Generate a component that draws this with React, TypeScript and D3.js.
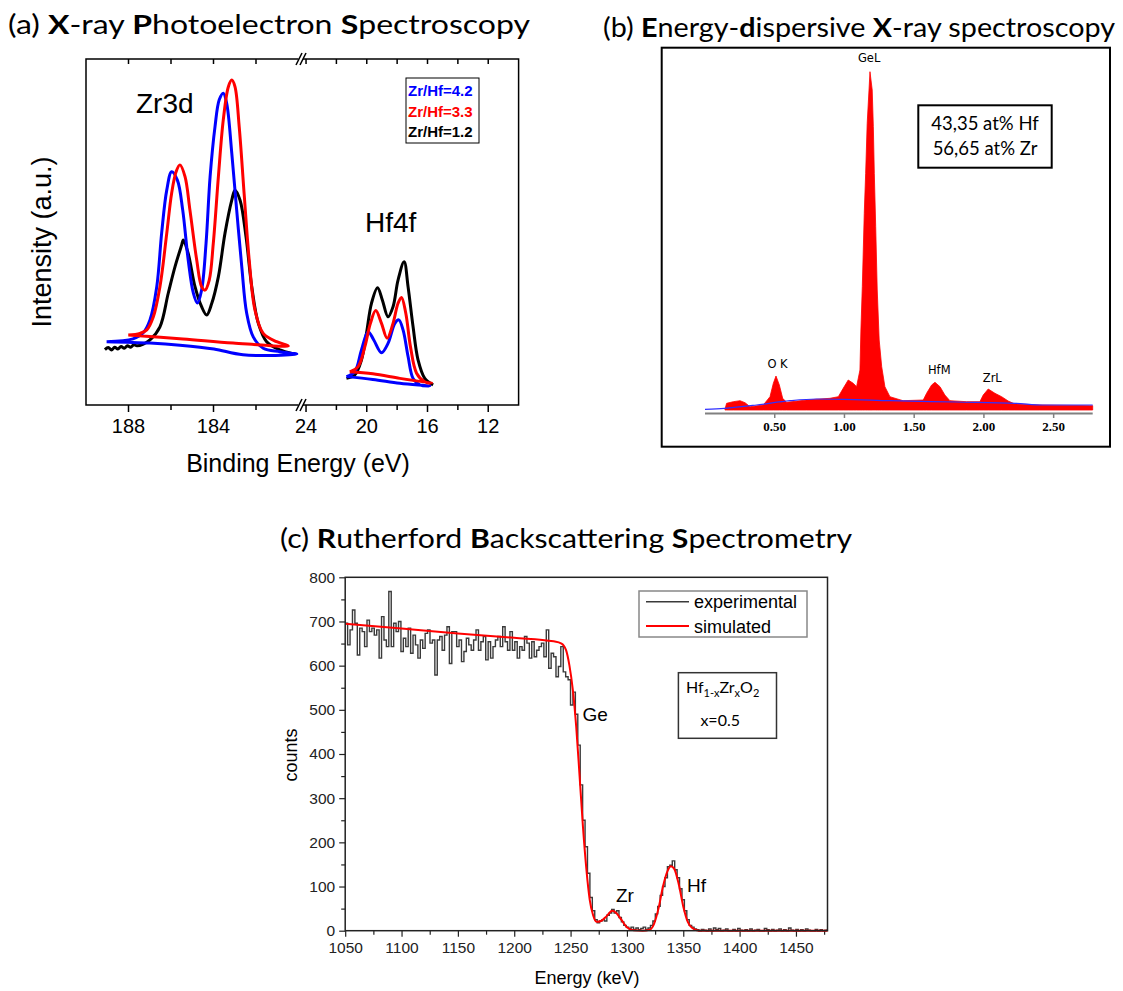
import React, { useEffect, useRef } from "react";
import * as d3 from "d3";

// ---------- (a) XPS: Zr3d region (binding energy eV / intensity a.u.) ----------
const zrBlueBE = [189.03, 187.79, 187.32, 186.99, 186.67, 186.44, 186.2, 185.97, 185.7, 185.45, 185.19, 184.95, 184.76, 184.56, 184.35, 184.16, 183.93, 183.73, 183.54, 183.38, 183.14, 182.91, 182.67, 182.44, 182.13, 181.66, 180.87, 180.08, 182.61, 183.98, 185.58, 186.99, 189.03];
const zrBlueInt = [18.3, 19.1, 20.8, 24.6, 34.2, 49.7, 62.1, 67.4, 65.0, 56.4, 41.9, 32.4, 29.5, 33.2, 46.8, 66.0, 80.4, 88.2, 90.1, 87.2, 72.8, 56.4, 40.0, 26.6, 19.7, 16.4, 15.4, 14.7, 14.5, 16.2, 17.3, 17.9, 18.3];
const zrRedBE = [188.01, 187.46, 187.14, 186.83, 186.52, 186.2, 185.97, 185.76, 185.58, 185.34, 185.11, 184.79, 184.56, 184.4, 184.2, 184.01, 183.77, 183.54, 183.3, 183.14, 182.99, 182.79, 182.56, 182.32, 182.05, 181.66, 181.03, 180.48, 183.08, 185.44, 188.01];
const zrRedInt = [20.2, 20.7, 21.7, 25.5, 34.2, 49.6, 61.2, 67.4, 69.4, 66.0, 56.4, 41.9, 34.2, 33.2, 36.1, 46.7, 66.0, 82.4, 92.0, 93.9, 92.0, 80.4, 61.2, 41.9, 27.5, 20.7, 18.3, 17.1, 17.9, 19.1, 20.2];
const zrBlackBE = [189.11, 188.95, 188.8, 188.65, 188.5, 188.35, 188.2, 188.05, 187.9, 187.75, 187.6, 187.3, 186.99, 186.52, 186.13, 185.81, 185.5, 185.42, 185.19, 184.87, 184.56, 184.32, 184.08, 183.77, 183.46, 183.14, 182.99, 182.75, 182.47, 182.2, 181.89, 181.5, 180.87, 180.32];
const zrBlackInt = [16.0, 16.6, 15.9, 16.7, 16.2, 16.9, 16.4, 17.1, 16.7, 17.4, 17.1, 17.6, 18.8, 22.6, 32.3, 40.0, 46.2, 47.7, 43.8, 34.2, 28.4, 26.0, 29.4, 37.1, 49.6, 59.2, 62.1, 59.2, 48.6, 34.2, 23.6, 18.3, 15.9, 14.9];

// ---------- (a) XPS: Hf4f region ----------
const hfBlackBE = [21.34, 20.79, 20.35, 20.02, 19.69, 19.29, 18.97, 18.6, 18.27, 17.94, 17.54, 17.28, 16.95, 16.62, 16.18, 15.63];
const hfBlackInt = [7.7, 8.7, 13.0, 20.7, 29.4, 33.9, 30.3, 25.5, 28.4, 36.1, 41.4, 34.2, 22.6, 13.0, 7.7, 5.8];
const hfRedBE = [21.12, 20.57, 20.13, 19.76, 19.41, 19.03, 18.66, 18.27, 17.94, 17.71, 17.43, 17.12, 16.72, 16.18, 15.73, 17.82, 19.6, 21.12];
const hfRedInt = [9.6, 11.1, 16.8, 23.6, 27.3, 23.6, 19.3, 23.6, 29.4, 31.1, 26.5, 16.8, 9.2, 6.7, 6.3, 7.7, 9.0, 9.6];
const hfBlueBE = [21.34, 20.79, 20.35, 19.91, 19.54, 19.03, 18.6, 18.15, 17.89, 17.61, 17.28, 16.95, 16.51, 15.85, 17.82, 19.6, 21.34];
const hfBlueInt = [8.2, 9.6, 15.9, 21.2, 18.8, 15.1, 17.8, 23.6, 24.6, 21.7, 14.0, 7.7, 5.8, 5.5, 6.3, 7.4, 8.2];

const xpsLegend = ["Zr/Hf=4.2", "Zr/Hf=3.3", "Zr/Hf=1.2"];
const xpsColors = ["#0000ff", "#ff0000", "#000000"];

// ---------- (b) EDS (keV / counts a.u.) ----------
const edsKeV = [0.143, 0.155, 0.203, 0.251, 0.287, 0.323, 0.418, 0.466, 0.49, 0.509, 0.533, 0.557, 0.585, 0.729, 0.896, 0.956, 0.991, 1.027, 1.063, 1.087, 1.111, 1.118, 1.128, 1.142, 1.152, 1.163, 1.176, 1.183, 1.199, 1.207, 1.214, 1.224, 1.235, 1.249, 1.267, 1.29, 1.326, 1.42, 1.565, 1.589, 1.625, 1.649, 1.685, 1.72, 1.756, 1.876, 1.971, 1.995, 2.031, 2.079, 2.127, 2.174, 2.222, 2.401, 2.76, 2.78];
const edsCounts = [0.7, 6.7, 8.3, 9.3, 7.3, 3.3, 5, 13.3, 26.7, 34, 25, 11.7, 7.7, 10, 11.7, 13.3, 21.7, 30, 26.7, 23.3, 40, 80, 123.3, 196.7, 236.7, 286.7, 320, 338.3, 320, 283.3, 236.7, 183.3, 120, 70, 43.3, 23.3, 13.3, 9.3, 10, 16.7, 25, 27.7, 23.3, 15, 9.3, 8.3, 8.3, 15, 21, 16.7, 13.3, 9, 6, 5, 4.3, 4.3];
const edsBgKeV = [0, 0.14, 0.37, 0.61, 0.8, 0.99, 1.33, 1.8, 2.23, 2.42, 2.78];
const edsBgCounts = [0.7, 1.7, 5, 9.3, 11, 10.7, 9.3, 8, 6.7, 5, 5];
const edsTicks = [0.5, 1.0, 1.5, 2.0, 2.5];
const edsPeakNames = ["O K", "GeL", "HfM", "ZrL"];
const edsPeakKeV = [0.52, 1.22, 1.68, 2.06];
const edsPeakCounts = [42, 348, 36, 28];
const edsComposition = ["43,35 at% Hf", "56,65 at% Zr"];

// ---------- (c) RBS (keV / counts) ----------
const rbsStart = 1050;
const rbsChannel = 2.15;
const rbsExpCounts = [
  696, 647, 681, 726, 696, 624, 685, 677, 643, 703, 677, 685, 669, 681, 617, 711, 658, 643, 768, 643,
  696, 677, 700, 632, 662, 643, 685, 628, 669, 647, 617, 658, 639, 673, 681, 651, 658, 579, 658, 666,
  635, 669, 688, 605, 677, 677, 643, 658, 609, 632, 662, 647, 635, 658, 681, 635, 654, 666, 613, 654,
  617, 643, 658, 666, 643, 688, 654, 635, 677, 635, 654, 617, 643, 635, 666, 651, 617, 654, 620, 635,
  643, 651, 620, 681, 594, 628, 620, 575, 598, 643, 586, 575, 568, 511,
  540, 490, 420, 330, 250, 190, 130, 75, 45, 25, 18, 22, 25, 22, 35, 40, 48, 40, 45, 30,
  20, 12, 8, 5, 8, 3, 6, 2, 5, 8, 3, 6, 12, 22, 38, 55, 80, 100, 120, 145,
  148, 158, 138, 120, 95, 70, 45, 25, 12, 8, 4, 2,
  0, 3, 1, 0, 4, 0, 6, 2, 5, 0, 1, 4, 0, 0, 3, 0, 5, 1, 0, 2,
  0, 4, 0, 1, 3, 0, 0, 5, 2, 0, 3, 0, 1, 4, 0, 2, 0, 6, 1, 0,
  3, 0, 2, 0, 4, 1, 0, 0, 3, 0, 2, 0, 1, 4,
];
const rbsSimE = [1050, 1100, 1150, 1200, 1235, 1242, 1246, 1249, 1252, 1255, 1258, 1261, 1264, 1267, 1270, 1273, 1277, 1282, 1287, 1291, 1295, 1300, 1306, 1314, 1320, 1324, 1328, 1332, 1336, 1339, 1342, 1346, 1350, 1354, 1358, 1364, 1478];
const rbsSimCounts = [695, 684, 673, 663, 655, 650, 635, 600, 545, 462, 350, 235, 140, 70, 35, 20, 22, 33, 45, 39, 25, 8, 1, 0, 2, 15, 50, 100, 135, 146, 140, 105, 55, 20, 6, 0, 0];
const rbsXTicks = [1050, 1100, 1150, 1200, 1250, 1300, 1350, 1400, 1450];
const rbsYTicks = [0, 100, 200, 300, 400, 500, 600, 700, 800];

const SANS = "'Liberation Sans', Arial, sans-serif";
const TITLE = "Lato, 'Open Sans', sans-serif";

type Sel = d3.Selection<SVGGElement, unknown, null, undefined>;

const drawTitle = (g: Sel, x: number, y: number, len: number, parts: [string, boolean][]) => {
  const t = g.append("text").attr("x", x).attr("y", y).attr("font-family", TITLE).attr("font-size", 27)
    .attr("textLength", len).attr("lengthAdjust", "spacingAndGlyphs").style("white-space", "pre");
  parts.forEach(([s, b]) => t.append("tspan").text(s).attr("font-weight", b ? 700 : 400));
};

const drawXps = (g: Sel) => {
  const top = 59, bottom = 405, left = 86, right = 518.6;
  const xL = d3.scaleLinear().domain([190, 180]).range([left, 298.5]);
  const xR = d3.scaleLinear().domain([24.2, 10]).range([303, right]);
  const y = d3.scaleLinear().domain([0, 100]).range([bottom, top]);

  drawTitle(g, 8, 34, 522, [["(a) ", false], ["X", true], ["-ray ", false], ["P", true], ["hotoelectron ", false], ["S", true], ["pectroscopy", false]]);

  // frame
  g.append("rect").attr("x", left).attr("y", top).attr("width", right - left).attr("height", bottom - top)
    .attr("fill", "none").attr("stroke", "#000").attr("stroke-width", 1.5);

  const leftTicks = [188, 186, 184, 182];
  const rightTicks = [24, 22, 20, 18, 16, 14, 12];
  const ticks = [...leftTicks.map((v) => ({ v, x: xL(v) })), ...rightTicks.map((v) => ({ v, x: xR(v) }))];
  ticks.forEach(({ v, x }) => {
    const major = v % 4 === 0;
    g.append("line").attr("x1", x).attr("x2", x).attr("y1", bottom).attr("y2", bottom + (major ? 7 : 5)).attr("stroke", "#000").attr("stroke-width", 1.5);
    g.append("line").attr("x1", x).attr("x2", x).attr("y1", top).attr("y2", top + 5).attr("stroke", "#000").attr("stroke-width", 1.5);
    if (major) {
      g.append("text").attr("x", x).attr("y", 433).attr("text-anchor", "middle").attr("font-family", SANS).attr("font-size", 20).text(v);
    }
  });

  // axis breaks
  [top, bottom].forEach((yy) => {
    g.append("rect").attr("x", 298.5).attr("y", yy - 3).attr("width", 4.5).attr("height", 6).attr("fill", "#fff");
    [299, 303].forEach((bx) => {
      g.append("line").attr("x1", bx - 3).attr("y1", yy + 6).attr("x2", bx + 3).attr("y2", yy - 6).attr("stroke", "#000").attr("stroke-width", 1.5);
    });
  });

  g.append("text").attr("transform", "translate(42,242) rotate(-90)").attr("text-anchor", "middle").attr("dominant-baseline", "central")
    .attr("font-family", SANS).attr("font-size", 27).text("Intensity (a.u.)");
  g.append("text").attr("x", 298).attr("y", 472).attr("text-anchor", "middle").attr("font-family", SANS).attr("font-size", 25).text("Binding Energy (eV)");

  const curve = (xs: d3.ScaleLinear<number, number>, be: number[], it: number[], color: string) => {
    const line = d3.line<number>().x((d) => xs(d)).y((_, i) => y(it[i])).curve(d3.curveCatmullRom.alpha(0.5));
    g.append("path").attr("d", line(be)).attr("fill", "none").attr("stroke", color).attr("stroke-width", 3).attr("stroke-linejoin", "round");
  };
  curve(xL, zrBlackBE, zrBlackInt, "#000");
  curve(xL, zrBlueBE, zrBlueInt, "#0000ff");
  curve(xL, zrRedBE, zrRedInt, "#ff0000");
  curve(xR, hfBlackBE, hfBlackInt, "#000");
  curve(xR, hfBlueBE, hfBlueInt, "#0000ff");
  curve(xR, hfRedBE, hfRedInt, "#ff0000");

  g.append("text").attr("x", 136).attr("y", 113).attr("font-family", SANS).attr("font-size", 28).text("Zr3d");
  g.append("text").attr("x", 365).attr("y", 232).attr("font-family", SANS).attr("font-size", 28).text("Hf4f");

  g.append("rect").attr("x", 406).attr("y", 78).attr("width", 73).attr("height", 65).attr("fill", "#fff").attr("stroke", "#000").attr("stroke-width", 1);
  xpsLegend.forEach((s, i) => {
    g.append("text").attr("x", 408).attr("y", 96 + i * 20.5).attr("font-family", SANS).attr("font-weight", 700).attr("font-size", 15)
      .attr("fill", xpsColors[i]).text(s);
  });
};

const drawEds = (g: Sel) => {
  drawTitle(g, 603, 37, 512, [["(b) ", false], ["E", true], ["nergy-", false], ["d", true], ["ispersive ", false], ["X", true], ["-ray spectroscopy", false]]);
  g.append("rect").attr("x", 661.7).attr("y", 47.7).attr("width", 448.3).attr("height", 399).attr("fill", "none").attr("stroke", "#000").attr("stroke-width", 2);

  const x = d3.scaleLinear().domain([0, 2.78]).range([705, 1092.7]);
  const y = d3.scaleLinear().domain([0, 340]).range([410, 70]);

  const area = d3.area<number>().x((d) => x(d)).y0(y(0)).y1((_, i) => y(edsCounts[i]));
  g.append("path").attr("d", area(edsKeV)).attr("fill", "#ff0000").attr("stroke", "#ff0000").attr("stroke-width", 0.8);
  const bg = d3.line<number>().x((d) => x(d)).y((_, i) => y(edsBgCounts[i])).curve(d3.curveMonotoneX);
  g.append("path").attr("d", bg(edsBgKeV)).attr("fill", "none").attr("stroke", "#3030ff").attr("stroke-width", 1.2);

  g.append("line").attr("x1", 705).attr("x2", 1092.7).attr("y1", 413.5).attr("y2", 413.5).attr("stroke", "#808080").attr("stroke-width", 2);
  edsTicks.forEach((t) => {
    g.append("line").attr("x1", x(t)).attr("x2", x(t)).attr("y1", 413.5).attr("y2", 418).attr("stroke", "#808080").attr("stroke-width", 1.5);
    g.append("text").attr("x", x(t)).attr("y", 431).attr("text-anchor", "middle").attr("font-family", "'Liberation Serif', serif")
      .attr("font-weight", 700).attr("font-size", 13).text(t.toFixed(2));
  });

  edsPeakNames.forEach((n, i) => {
    g.append("text").attr("x", x(edsPeakKeV[i]) - (n === "GeL" ? 6 : 0)).attr("y", y(edsPeakCounts[i])).attr("text-anchor", "middle")
      .attr("font-family", "'DejaVu Sans', sans-serif").attr("font-size", 11.5).text(n);
  });

  g.append("rect").attr("x", 918.3).attr("y", 105.3).attr("width", 133.4).attr("height", 62.4).attr("fill", "#fff").attr("stroke", "#000").attr("stroke-width", 2);
  edsComposition.forEach((s, i) => {
    g.append("text").attr("x", 985).attr("y", 130 + i * 25).attr("text-anchor", "middle").attr("font-family", TITLE).attr("font-size", 18.5).text(s);
  });
};

const drawRbs = (g: Sel) => {
  drawTitle(g, 280, 548, 572, [["(c) ", false], ["R", true], ["utherford ", false], ["B", true], ["ackscattering ", false], ["S", true], ["pectrometry", false]]);
  const left = 345.2, right = 827.5, top = 577.3, bottom = 930.7;
  const x = d3.scaleLinear().domain([1050, 1478]).range([left, right]);
  const y = d3.scaleLinear().domain([0, 800]).range([bottom, top]);

  const xAxis = g.append("g").attr("transform", `translate(0,${bottom})`)
    .call(d3.axisBottom(x).tickValues(rbsXTicks).tickSize(6).tickPadding(5).tickFormat(d3.format("d")));
  g.append("g").attr("transform", `translate(0,${bottom})`)
    .call(d3.axisBottom(x).tickValues(rbsXTicks.map((t) => t + 25)).tickSize(4).tickFormat(() => ""));
  const yAxis = g.append("g").attr("transform", `translate(${left},0)`)
    .call(d3.axisLeft(y).tickValues(rbsYTicks).tickSize(6).tickPadding(4));
  g.append("g").attr("transform", `translate(${left},0)`)
    .call(d3.axisLeft(y).tickValues(rbsYTicks.slice(0, -1).map((t) => t + 50)).tickSize(4).tickFormat(() => ""));
  g.selectAll(".domain").remove();
  g.selectAll(".tick line").attr("stroke", "#222").attr("stroke-width", 1.2);
  [xAxis, yAxis].forEach((a) => a.selectAll("text").attr("font-family", SANS).attr("font-size", 15.5).attr("fill", "#222"));

  const expLine = d3.line<number>().x((_, i) => x(rbsStart + i * rbsChannel)).y((d) => y(d)).curve(d3.curveStepAfter);
  g.append("path").attr("d", expLine(rbsExpCounts)).attr("fill", "none").attr("stroke", "#3a3a3a").attr("stroke-width", 1.4);
  const simLine = d3.line<number>().x((d) => x(d)).y((_, i) => y(rbsSimCounts[i])).curve(d3.curveMonotoneX);
  g.append("path").attr("d", simLine(rbsSimE)).attr("fill", "none").attr("stroke", "#ff0000").attr("stroke-width", 2);

  g.append("rect").attr("x", left).attr("y", top).attr("width", right - left).attr("height", bottom - top)
    .attr("fill", "none").attr("stroke", "#222").attr("stroke-width", 1.5);

  g.append("text").attr("transform", "translate(291,755) rotate(-90)").attr("text-anchor", "middle").attr("dominant-baseline", "central")
    .attr("font-family", SANS).attr("font-size", 18).text("counts");
  g.append("text").attr("x", 587).attr("y", 984).attr("text-anchor", "middle").attr("font-family", SANS).attr("font-size", 18).text("Energy (keV)");

  // legend
  g.append("rect").attr("x", 639).attr("y", 591).attr("width", 168).attr("height", 46).attr("fill", "#fff").attr("stroke", "#888").attr("stroke-width", 1.5);
  [["experimental", "#3a3a3a", 601.7, 1.4], ["simulated", "#ff0000", 626, 2]].forEach(([s, c, yy, w]) => {
    g.append("line").attr("x1", 646).attr("x2", 689).attr("y1", yy).attr("y2", yy).attr("stroke", c as string).attr("stroke-width", w as number);
    g.append("text").attr("x", 694).attr("y", (yy as number) + 6.5).attr("font-family", SANS).attr("font-size", 18).text(s as string);
  });

  // composition box
  g.append("rect").attr("x", 678.4).attr("y", 672.7).attr("width", 98.1).attr("height", 65.6).attr("fill", "#fff").attr("stroke", "#333").attr("stroke-width", 1.5);
  const f = g.append("text").attr("x", 686).attr("y", 693).attr("font-family", TITLE).attr("font-size", 16);
  f.append("tspan").text("Hf");
  f.append("tspan").text("1-x").attr("font-size", 11).attr("dy", 4);
  f.append("tspan").text("Zr").attr("dy", -4);
  f.append("tspan").text("x").attr("font-size", 11).attr("dy", 4);
  f.append("tspan").text("O").attr("dy", -4);
  f.append("tspan").text("2").attr("font-size", 11).attr("dy", 4);
  g.append("text").attr("x", 700.4).attr("y", 726).attr("font-family", TITLE).attr("font-size", 16).text("x=0.5");

  g.append("text").attr("x", 582.6).attr("y", 721).attr("font-family", SANS).attr("font-size", 19).text("Ge");
  g.append("text").attr("x", 616).attr("y", 902).attr("font-family", SANS).attr("font-size", 19).text("Zr");
  g.append("text").attr("x", 687).attr("y", 892).attr("font-family", SANS).attr("font-size", 19).text("Hf");
};

export default function App() {
  const ref = useRef<SVGSVGElement>(null);

  useEffect(() => {
    const svg = d3.select(ref.current);
    svg.selectAll("*").remove();
    drawXps(svg.append("g"));
    drawEds(svg.append("g"));
    drawRbs(svg.append("g"));
  }, []);

  return (
    <svg ref={ref} width={1123} height={991} style={{ position: "absolute", left: 0, top: 0, background: "#fff" }} />
  );
}
